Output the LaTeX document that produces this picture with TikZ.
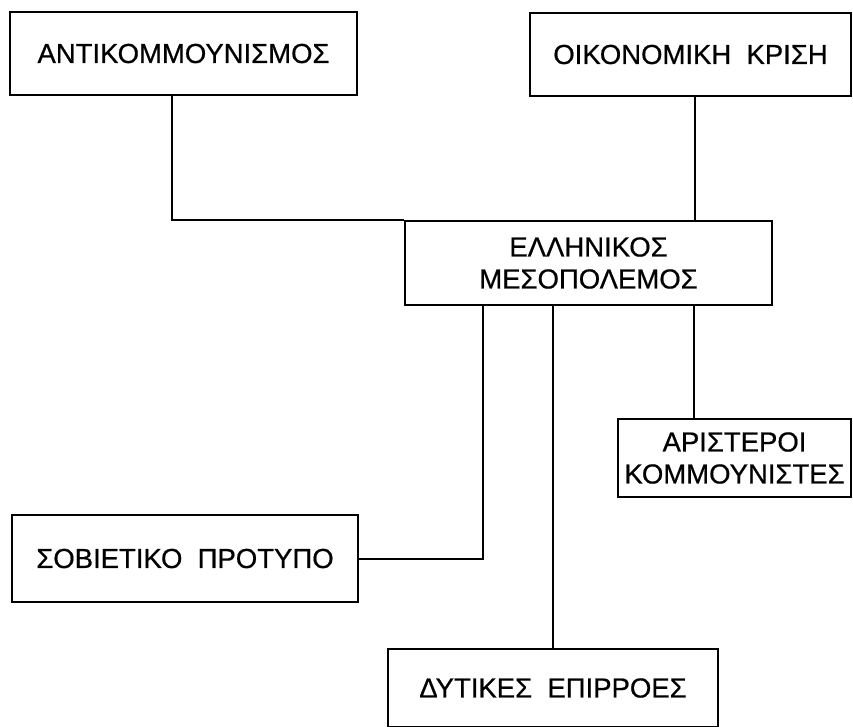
\documentclass[tikz,border=0pt]{standalone}
\usepackage{fontspec}
\setmainfont{Liberation Sans}
\newfontfamily\boxfont{Liberation Sans}[FakeBold=0.6]
\tikzset{
  box/.style={draw, line width=2pt, align=center, inner sep=0pt,
    font=\boxfont\fontsize{27.5}{32}\selectfont},
  link/.style={line width=2pt}
}

\begin{document}
\begin{tikzpicture}[x=1pt,y=-1pt]
\useasboundingbox (0,0) rectangle (853,727);

% nodes
\node (anti) [box,minimum width=347,minimum height=83] at (183.5,53.5) {ΑΝΤΙΚΟΜΜΟΥΝΙΣΜΟΣ};
\node (oik) [box,minimum width=321,minimum height=83] at (690.5,54.5) {ΟΙΚΟΝΟΜΙΚΗ\ \ ΚΡΙΣΗ};
\node (mes) [box,minimum width=367,minimum height=84] at (588.5,263) {ΕΛΛΗΝΙΚΟΣ\\ΜΕΣΟΠΟΛΕΜΟΣ};
\node (ari) [box,minimum width=233,minimum height=78] at (734.5,458) {ΑΡΙΣΤΕΡΟΙ\\ΚΟΜΜΟΥΝΙΣΤΕΣ};
\node (sov) [box,minimum width=346,minimum height=87] at (185,558.5) {ΣΟΒΙΕΤΙΚΟ\ \ ΠΡΟΤΥΠΟ};
\node (dyt) [box,minimum width=330,minimum height=78] at (553,688) {ΔΥΤΙΚΕΣ\ \ ΕΠΙΡΡΟΕΣ};

% links
\draw[link] (anti.south -| 172,0) |- (mes.north west);
\draw[link] (oik.south -| 695,0) -- (mes.north -| 695,0);
\draw[link] (mes.south -| 483,0) |- (sov.east);
\draw[link] (mes.south -| dyt.north) -- (dyt.north);
\draw[link] (mes.south -| 694,0) -- (ari.north -| 694,0);
\end{tikzpicture}
\end{document}
